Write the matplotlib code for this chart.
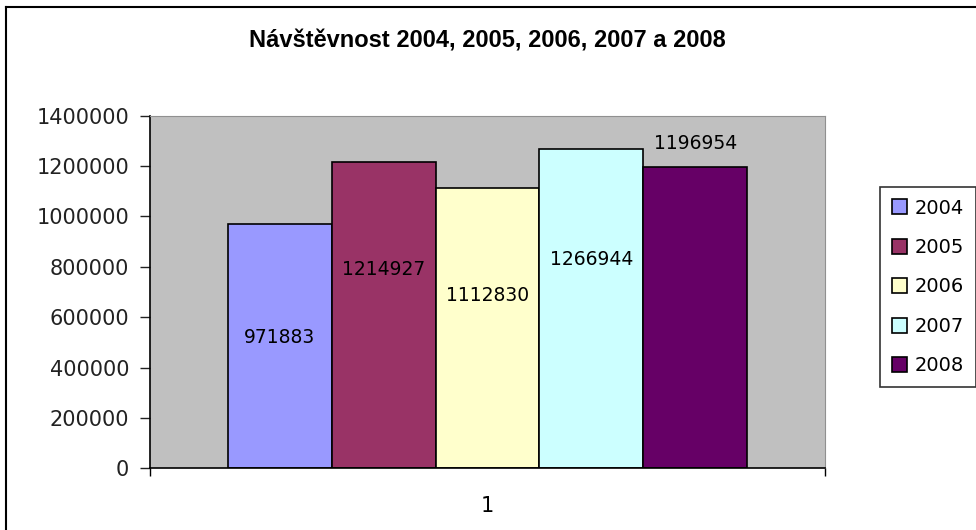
import matplotlib
matplotlib.use("Agg")
import matplotlib.pyplot as plt
from matplotlib.lines import Line2D
import numpy as np

# data
roky = ["2004", "2005", "2006", "2007", "2008"]
navstevnost = [971883, 1214927, 1112830, 1266944, 1196954]
barvy = ["#9999FF", "#993366", "#FFFFCC", "#CCFFFF", "#660066"]
kategorie = ["1"]
# where the labels sit, as a share of the bar height (as dragged in the original)
popisky_poloha = [0.536, 0.65, 0.615, 0.653, 1.076]
osa_y = [0, 200000, 400000, 600000, 800000, 1000000, 1200000, 1400000]

W, H = 976, 530
fig = plt.figure(figsize=(W / 100, H / 100), dpi=100)
fig.patch.set_facecolor("white")

# outer chart frame (right and bottom edges cut off in the screenshot)
fig.add_artist(Line2D([6 / W, 6 / W], [0, 1 - 7 / H], transform=fig.transFigure, color="black", lw=1.5))
fig.add_artist(Line2D([6 / W, 1], [1 - 7 / H, 1 - 7 / H], transform=fig.transFigure, color="black", lw=1.5))

ax = fig.add_axes([150 / W, 1 - 468.3 / H, 675 / W, 352.6 / H])
ax.set_facecolor("#C0C0C0")

n = len(roky)
sirka_skupiny = 0.769
sirka = sirka_skupiny / n
x0 = -sirka_skupiny / 2 + sirka / 2
for i, (rok, hodnota, barva) in enumerate(zip(roky, navstevnost, barvy)):
    x = x0 + i * sirka
    ax.bar(x, hodnota, width=sirka, color=barva, edgecolor="black", linewidth=1.2, label=rok)
    ax.text(x, hodnota * popisky_poloha[i], str(hodnota), ha="center", va="center",
            fontsize=13.5, color="black")

ax.set_xlim(-0.5, 0.5)
ax.set_ylim(0, 1400000)
ax.set_yticks(osa_y)
ax.set_yticklabels([str(v) for v in osa_y], fontsize=15)
ax.tick_params(axis="y", direction="out", length=7, width=1, pad=8, colors="#222222")

# category boundaries as ticks, category name in the middle
ax.set_xticks([-0.5, 0.5])
ax.set_xticklabels(["", ""])
ax.tick_params(axis="x", direction="out", length=6, width=1)
ax.set_xticks([0], minor=True)
ax.set_xticklabels(kategorie, minor=True, fontsize=15)
ax.tick_params(axis="x", which="minor", length=0, pad=20)

ax.spines["top"].set_color("#909090")
ax.spines["right"].set_color("#909090")
ax.spines["left"].set_linewidth(1.2)
ax.spines["bottom"].set_linewidth(1.2)

fig.text(487 / W, 1 - 41 / H, "Návštěvnost 2004, 2005, 2006, 2007 a 2008",
         ha="center", va="center", fontsize=17, fontweight="bold",
         family=["Liberation Sans Narrow", "Liberation Sans", "DejaVu Sans"])

leg = fig.legend(loc="upper left", bbox_to_anchor=(880 / W, 1 - 187 / H), fontsize=14,
                 frameon=True, fancybox=False, borderaxespad=0, labelspacing=1.05,
                 handlelength=0.8, handleheight=0.8, handletextpad=0.4, borderpad=0.6)
leg.get_frame().set_edgecolor("black")
leg.get_frame().set_linewidth(1.2)

fig.savefig("out.png", dpi=100)
